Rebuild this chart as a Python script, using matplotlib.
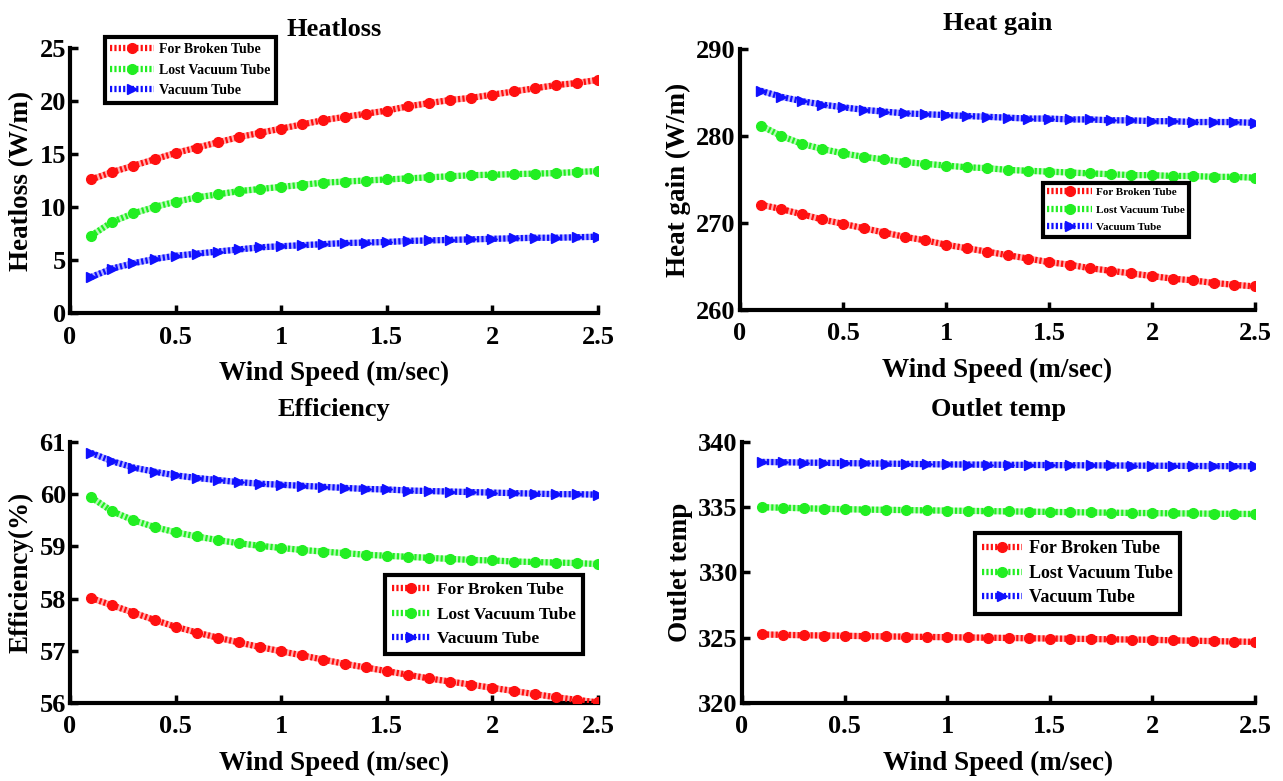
import numpy as np
import matplotlib
matplotlib.use("Agg")
import matplotlib.pyplot as plt
from matplotlib.ticker import FormatStrFormatter

plt.rcParams["font.family"] = ["Liberation Serif", "DejaVu Serif"]
plt.rcParams["font.weight"] = "bold"

wind = np.round(np.arange(1, 26) * 0.1, 1)
labels = ["For Broken Tube", "Lost Vacuum Tube", "Vacuum Tube"]

heatloss_broken = [12.6, 13.3, 13.9, 14.5, 15.1, 15.6, 16.1, 16.6, 17.0, 17.4,
                   17.8, 18.2, 18.5, 18.8, 19.1, 19.5, 19.8, 20.1, 20.3, 20.6,
                   20.9, 21.2, 21.5, 21.7, 22.0]
heatloss_lost = [7.3, 8.6, 9.4, 10.0, 10.5, 10.9, 11.2, 11.5, 11.7, 11.9,
                 12.1, 12.3, 12.4, 12.5, 12.6, 12.7, 12.8, 12.9, 13.0, 13.05,
                 13.1, 13.15, 13.2, 13.3, 13.4]
heatloss_vac = [3.4, 4.2, 4.7, 5.1, 5.4, 5.6, 5.8, 6.0, 6.2, 6.3,
                6.4, 6.5, 6.6, 6.65, 6.7, 6.8, 6.85, 6.9, 6.95, 7.0,
                7.05, 7.1, 7.1, 7.15, 7.2]

gain_broken = [272.1, 271.6, 271.0, 270.4, 269.9, 269.4, 268.9, 268.4, 268.0, 267.5,
               267.1, 266.7, 266.3, 265.9, 265.5, 265.2, 264.8, 264.5, 264.2, 263.9,
               263.6, 263.4, 263.1, 262.9, 262.7]
gain_lost = [281.2, 280.0, 279.1, 278.5, 278.0, 277.6, 277.3, 277.0, 276.8, 276.6,
             276.4, 276.3, 276.1, 276.0, 275.9, 275.8, 275.7, 275.6, 275.5, 275.5,
             275.4, 275.4, 275.3, 275.3, 275.2]
gain_vac = [285.2, 284.5, 284.0, 283.6, 283.3, 283.0, 282.8, 282.6, 282.5, 282.4,
            282.3, 282.2, 282.1, 282.0, 282.0, 281.9, 281.9, 281.8, 281.8, 281.7,
            281.7, 281.6, 281.6, 281.6, 281.5]

eff_broken = [58.01, 57.87, 57.73, 57.59, 57.46, 57.35, 57.25, 57.16, 57.07, 56.99,
              56.91, 56.83, 56.75, 56.68, 56.61, 56.54, 56.47, 56.41, 56.35, 56.29,
              56.23, 56.17, 56.11, 56.06, 56.01]
eff_lost = [59.94, 59.67, 59.50, 59.37, 59.27, 59.19, 59.12, 59.06, 59.01, 58.97,
            58.93, 58.90, 58.87, 58.84, 58.82, 58.80, 58.78, 58.76, 58.74, 58.73,
            58.71, 58.70, 58.69, 58.68, 58.66]
eff_vac = [60.79, 60.63, 60.51, 60.43, 60.36, 60.31, 60.27, 60.23, 60.20, 60.18,
           60.16, 60.14, 60.12, 60.10, 60.09, 60.07, 60.06, 60.05, 60.04, 60.03,
           60.02, 60.01, 60.00, 60.00, 59.99]

out_broken = [325.25, 325.22, 325.19, 325.17, 325.15, 325.12, 325.10, 325.08, 325.06, 325.04,
              325.02, 325.00, 324.98, 324.96, 324.94, 324.92, 324.90, 324.88, 324.86, 324.84,
              324.80, 324.77, 324.74, 324.71, 324.68]
out_lost = [335.0, 334.96, 334.92, 334.88, 334.85, 334.82, 334.80, 334.78, 334.76, 334.74,
            334.72, 334.70, 334.68, 334.66, 334.64, 334.62, 334.60, 334.58, 334.56, 334.55,
            334.53, 334.52, 334.50, 334.49, 334.48]
out_vac = [338.47, 338.45, 338.42, 338.40, 338.38, 338.36, 338.34, 338.32, 338.30, 338.28,
           338.27, 338.26, 338.25, 338.24, 338.23, 338.22, 338.21, 338.20, 338.19, 338.18,
           338.17, 338.16, 338.15, 338.15, 338.14]

colors = ["#ff1010", "#22ee22", "#1010ff"]
light = ["#ffb0b0", "#b8f8b8", "#b0b0ff"]
markers = ["o", "o", ">"]

panels = [
    dict(rect=[0.0546, 0.5992, 0.4115, 0.3393], data=[heatloss_broken, heatloss_lost, heatloss_vac],
         ylim=(0, 25), yticks=[0, 5, 10, 15, 20, 25], title="Heatloss", ylabel="Heatloss (W/m)",
         leg=(0.066, 1.04), legsize=10, legsp=0.55, hlen=3.1, tpad=9),
    dict(rect=[0.5768, 0.6031, 0.4014, 0.3342], data=[gain_broken, gain_lost, gain_vac],
         ylim=(260, 290), yticks=[260, 270, 280, 290], title="Heat gain", ylabel="Heat gain (W/m)",
         leg=(0.588, 0.487), legsize=8, legsp=0.7, hlen=4.0, tpad=14),
    dict(rect=[0.0546, 0.0999, 0.4115, 0.3342], data=[eff_broken, eff_lost, eff_vac],
         ylim=(56, 61), yticks=[56, 57, 58, 59, 60, 61], title="Efficiency", ylabel="Efficiency(%)",
         leg=(0.597, 0.49), legsize=12.5, legsp=0.48, hlen=2.2, tpad=19),
    dict(rect=[0.5783, 0.0999, 0.3998, 0.3342], data=[out_broken, out_lost, out_vac],
         ylim=(320, 340), yticks=[320, 325, 330, 335, 340], title="Outlet temp", ylabel="Outlet temp",
         leg=(0.454, 0.651), legsize=13, legsp=0.42, hlen=2.2, tpad=19),
]

fig = plt.figure(figsize=(12.83, 7.81), dpi=100)

for p in panels:
    ax = fig.add_axes(p["rect"])
    handles = []
    for vals, c, lc, m, lab in zip(p["data"], colors, light, markers, labels):
        ax.plot(wind, vals, color=lc, lw=4.5, solid_capstyle="butt", zorder=2)
        (h,) = ax.plot(wind, vals, color=c, lw=4.5, linestyle=(0, (0.35, 0.35)),
                       marker=m, markersize=7, markeredgecolor=c, markerfacecolor=c,
                       label=lab, zorder=3)
        handles.append(h)
    ax.set_xlim(0, 2.5)
    ax.set_ylim(*p["ylim"])
    ax.set_xticks([0, 0.5, 1, 1.5, 2, 2.5])
    ax.set_yticks(p["yticks"])
    ax.xaxis.set_major_formatter(FormatStrFormatter("%g"))
    ax.spines["top"].set_visible(False)
    ax.spines["right"].set_visible(False)
    for s in ("left", "bottom"):
        ax.spines[s].set_linewidth(3)
    ax.tick_params(direction="in", length=6, width=2.5, labelsize=19)
    ax.tick_params(axis="x", pad=9)
    ax.tick_params(axis="y", pad=3)
    for t in ax.get_xticklabels() + ax.get_yticklabels():
        t.set_fontweight("bold")
    ax.set_xlabel("Wind Speed (m/sec)", fontsize=19.5, fontweight="bold", labelpad=9)
    ax.set_ylabel(p["ylabel"], fontsize=19.5, fontweight="bold", labelpad=4)
    ax.set_title(p["title"], fontsize=19, fontweight="bold", pad=p["tpad"])
    leg = ax.legend(handles=handles, loc="upper left", bbox_to_anchor=p["leg"],
                    borderaxespad=0, fancybox=False, numpoints=1, handlelength=p["hlen"],
                    prop={"family": "Liberation Serif", "weight": "bold", "size": p["legsize"]},
                    labelspacing=p["legsp"], framealpha=1, handletextpad=0.4)
    leg.get_frame().set_edgecolor("black")
    leg.get_frame().set_linewidth(3)

fig.savefig("out.png", dpi=100)
